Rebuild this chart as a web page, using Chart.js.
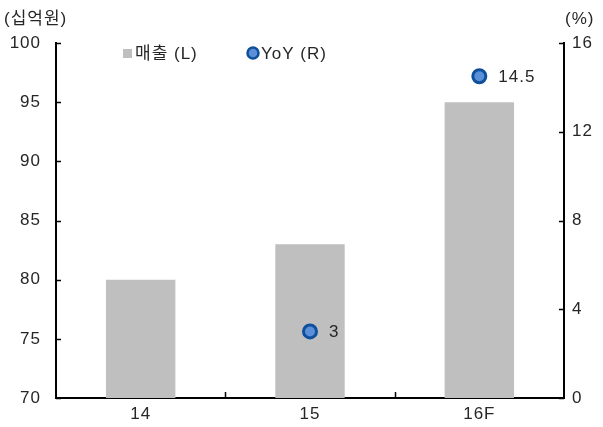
<!DOCTYPE html>
<html>
<head>
<meta charset="utf-8">
<script src="https://cdn.jsdelivr.net/npm/chart.js@4/dist/chart.umd.min.js"></script>
<style>
  html, body { margin: 0; padding: 0; background: #fff; }
  #wrap { width: 603px; height: 427px; }
</style>
</head>
<body>
<div id="wrap"><canvas id="c" width="603" height="427"></canvas></div>
<script>
const categories = ['14', '15', '16F'];
const sales = [80, 83, 95];          // 매출, 십억원 (left axis)
const yoy = [null, 3, 14.5];         // YoY, % (right axis)
const leftTicks = [70, 75, 80, 85, 90, 95, 100];
const rightTicks = [0, 4, 8, 12, 16];

const FONT = '"Liberation Sans", "Noto Sans CJK KR", sans-serif';
const TEXT = '#262626';
const SIZE = 17;

// slightly wider letter spacing for all canvas text
const spacing = {
  id: 'spacing',
  beforeDraw(chart) { chart.ctx.letterSpacing = '1px'; }
};

// inward tick marks, unit labels, legend and point labels
const decorations = {
  id: 'decorations',
  afterDraw(chart) {
    const ctx = chart.ctx;
    const area = chart.chartArea;
    const y = chart.scales.y, y1 = chart.scales.y1, x = chart.scales.x;
    ctx.save();
    ctx.letterSpacing = '1px';
    ctx.strokeStyle = '#000';
    ctx.lineWidth = 1.5;
    ctx.beginPath();
    leftTicks.forEach(v => {
      const py = Math.round(y.getPixelForValue(v)) + 0.5;
      ctx.moveTo(area.left, py); ctx.lineTo(area.left + 5, py);
    });
    rightTicks.forEach(v => {
      const py = Math.round(y1.getPixelForValue(v)) + 0.5;
      ctx.moveTo(area.right, py); ctx.lineTo(area.right - 5, py);
    });
    for (let i = 1; i < categories.length; i++) {
      const px = Math.round((x.getPixelForValue(i - 1) + x.getPixelForValue(i)) / 2) + 0.5;
      ctx.moveTo(px, area.bottom); ctx.lineTo(px, area.bottom - 6);
    }
    ctx.stroke();

    ctx.fillStyle = TEXT;
    ctx.font = SIZE + 'px ' + FONT;
    ctx.textBaseline = 'middle';
    ctx.textAlign = 'left';
    ctx.fillText('(십억원)', 4, 19);
    ctx.fillText('(%)', 565, 19);

    // legend
    ctx.fillStyle = '#bfbfbf';
    ctx.fillRect(123, 49, 9, 9);
    ctx.fillStyle = TEXT;
    ctx.fillText('매출 (L)', 135, 54);
    ctx.beginPath();
    ctx.arc(253, 53, 5.5, 0, Math.PI * 2);
    ctx.fillStyle = '#5b8fd8';
    ctx.fill();
    ctx.lineWidth = 2.5;
    ctx.strokeStyle = '#0f4f9c';
    ctx.stroke();
    ctx.fillStyle = TEXT;
    ctx.fillText('YoY (R)', 261, 54);

    // point labels
    const meta = chart.getDatasetMeta(1);
    meta.data.forEach((pt, i) => {
      if (yoy[i] == null) return;
      ctx.fillText(String(yoy[i]), pt.x + 19, pt.y + 1);
    });
    ctx.restore();
  }
};

new Chart(document.getElementById('c'), {
  type: 'bar',
  data: {
    labels: categories,
    datasets: [{
      label: '매출 (L)',
      data: sales,
      backgroundColor: '#bfbfbf',
      categoryPercentage: 1,
      barPercentage: 0.41,
      yAxisID: 'y',
      order: 2
    }, {
      type: 'line',
      label: 'YoY (R)',
      data: yoy,
      showLine: false,
      pointRadius: 6.5,
      pointBorderWidth: 3,
      pointBackgroundColor: '#5b8fd8',
      pointBorderColor: '#0f4f9c',
      yAxisID: 'y1',
      order: 1
    }]
  },
  options: {
    responsive: false,
    animation: false,
    devicePixelRatio: 1,
    layout: { padding: { top: 43, left: 0, right: 0, bottom: 0 } },
    plugins: { legend: { display: false }, tooltip: { enabled: false } },
    scales: {
      x: {
        grid: { display: false, drawTicks: false },
        border: { color: '#000', width: 2 },
        ticks: { color: TEXT, font: { family: FONT, size: SIZE }, padding: 6 },
        afterFit: s => { s.height = 29; }
      },
      y: {
        position: 'left',
        min: 70, max: 100,
        afterBuildTicks: s => { s.ticks = leftTicks.map(v => ({ value: v })); },
        grid: { display: false, drawTicks: false },
        border: { color: '#000', width: 2 },
        ticks: { color: TEXT, font: { family: FONT, size: SIZE }, padding: 15 },
        afterFit: s => { s.width = 56; }
      },
      y1: {
        position: 'right',
        min: 0, max: 16,
        afterBuildTicks: s => { s.ticks = rightTicks.map(v => ({ value: v })); },
        grid: { display: false, drawTicks: false },
        border: { color: '#000', width: 2 },
        ticks: { color: TEXT, font: { family: FONT, size: SIZE }, padding: 8 },
        afterFit: s => { s.width = 39; }
      }
    }
  },
  plugins: [spacing, decorations]
});
</script>
</body>
</html>
